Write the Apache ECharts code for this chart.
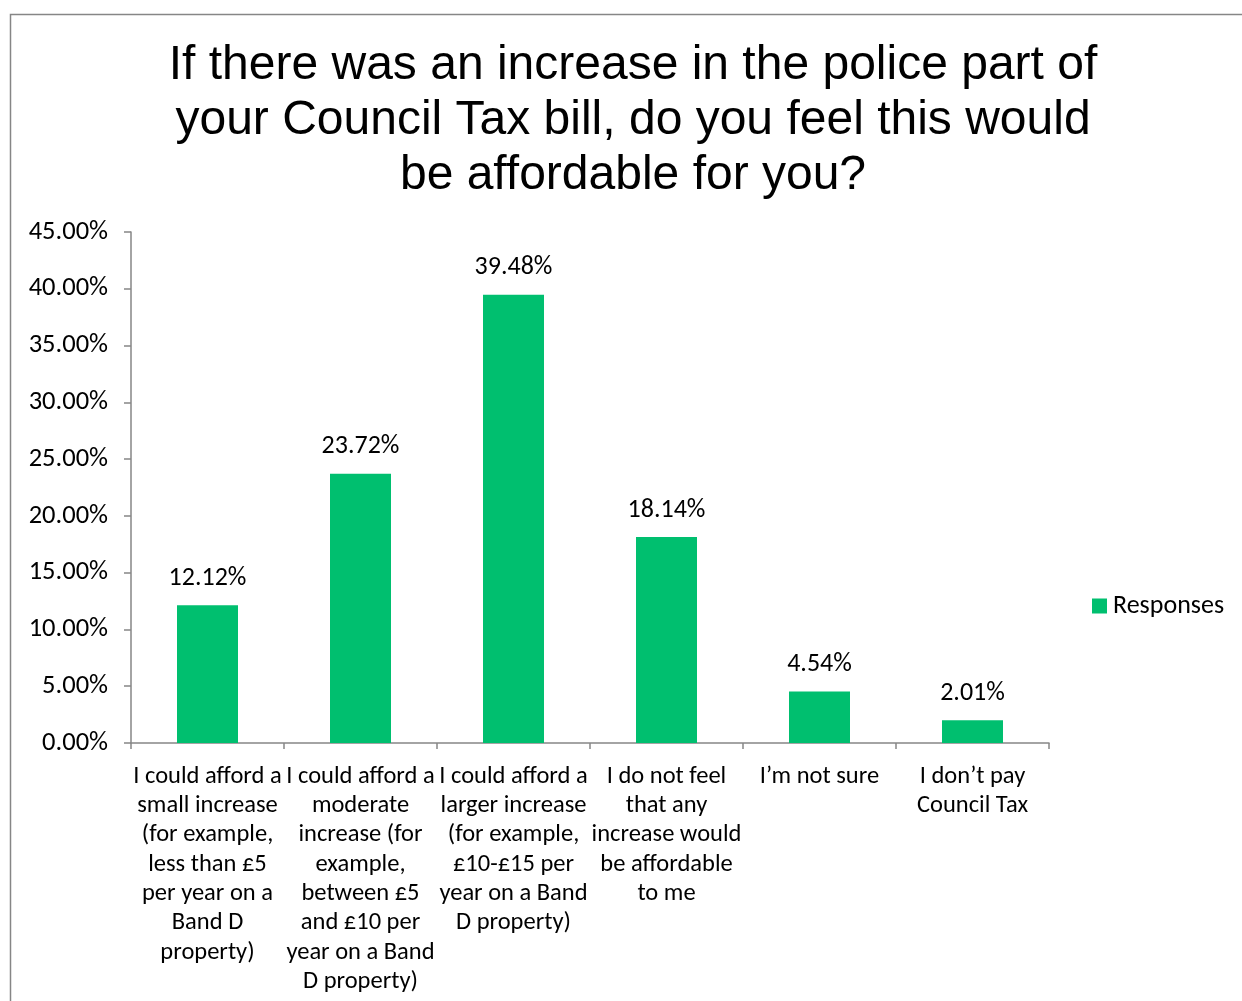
<!DOCTYPE html>
<html><head><meta charset="utf-8">
<script src="https://cdn.jsdelivr.net/npm/echarts@6/dist/echarts.min.js"></script>
<style>html,body{margin:0;padding:0;background:#fff}#c{width:1242px;height:1001px}</style>
</head><body><div id="c"></div>
<script>
const titleText = 'If there was an increase in the police part of\nyour Council Tax bill, do you feel this would\nbe affordable for you?';
const categories = [
  'I could afford a\nsmall increase\n(for example,\nless than £5\nper year on a\nBand D\nproperty)',
  'I could afford a\nmoderate\nincrease (for\nexample,\nbetween £5\nand £10 per\nyear on a Band\nD property)',
  'I could afford a\nlarger increase\n(for example,\n£10-£15 per\nyear on a Band\nD property)',
  'I do not feel\nthat any\nincrease would\nbe affordable\nto me',
  'I’m not sure',
  'I don’t pay\nCouncil Tax'
];
const responses = [12.12, 23.72, 39.48, 18.14, 4.54, 2.01];
const seriesName = 'Responses';

const font = 'Carlito, Lato, "Open Sans", sans-serif';
const chart = echarts.init(document.getElementById('c'));
chart.setOption({
  animation: false,
  backgroundColor: '#fff',
  graphic: [{type:'rect', shape:{x:10.5,y:14.5,width:1260,height:1020}, style:{fill:'none', stroke:'#868686', lineWidth:1.5}}],
  title: {
    text: titleText, left: 633, top: 38, textAlign: 'center', padding: 0,
    textStyle: {fontFamily: '"Liberation Sans", Arial, sans-serif', fontSize: 48, fontWeight: 'normal', color: '#000', lineHeight: 55}
  },
  legend: {
    data: [seriesName], left: 1092, top: 593, padding: 0, itemWidth: 15, itemHeight: 15, itemGap: 6,
    icon: 'rect',
    textStyle: {fontFamily: font, fontSize: 26, color: '#000', padding: [0,0,0,1]}
  },
  grid: {left: 131, right: 193, top: 232, bottom: 258},
  xAxis: {
    type: 'category', data: categories,
    axisLine: {lineStyle: {color: '#868686', width: 1.5}},
    axisTick: {show: true, length: 6, lineStyle: {color: '#868686', width: 1.5}},
    axisLabel: {interval: 0, margin: 19, fontFamily: font, fontSize: 24.5, color: '#000', lineHeight: 29.3}
  },
  yAxis: {
    type: 'value', min: 0, max: 45, interval: 5,
    splitLine: {show: false},
    axisLine: {show: true, lineStyle: {color: '#868686', width: 1.5}},
    axisTick: {show: true, length: 7, lineStyle: {color: '#868686', width: 1.5}},
    axisLabel: {margin: 23, fontFamily: font, fontSize: 26.5, color: '#000', formatter: v => v.toFixed(2) + '%'}
  },
  series: [{
    name: seriesName, type: 'bar', data: responses, barWidth: 61,
    itemStyle: {color: '#00BF6F'},
    label: {show: true, position: 'top', distance: 14, fontFamily: font, fontSize: 26, color: '#000', formatter: p => p.value.toFixed(2) + '%'}
  }]
});
</script></body></html>
